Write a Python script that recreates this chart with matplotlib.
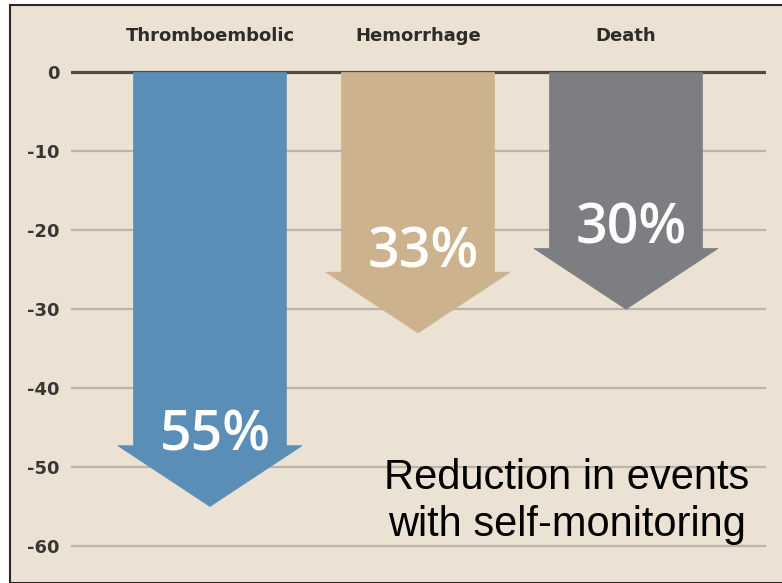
import matplotlib
matplotlib.use("Agg")
import matplotlib.pyplot as plt
from matplotlib.patches import FancyArrow, Rectangle

# ---- data ----
categories = ["Thromboembolic", "Hemorrhage", "Death"]
reductions = [55, 33, 30]          # percent reduction (drawn downward)
pct_labels = ["55%", "33%", "30%"]
arrow_colors = ["#5B8EB6", "#CDB28E", "#7D7E82"]
yticks = [0, -10, -20, -30, -40, -50, -60]
note = "Reduction in events\nwith self-monitoring"

# style: vertical offset of the percent label above the arrow head
label_lift = [1.2, 2.4, 2.4]

W, H = 782, 583
fig = plt.figure(figsize=(W / 100, H / 100), dpi=100, facecolor="white")

# beige panel with dark frame (cut at right/bottom)
fig.patches.append(Rectangle((10 / W, 0), 1.0, 1 - 5 / H, transform=fig.transFigure,
                             facecolor="#EBE2D4", edgecolor="#2A2826", linewidth=1.5,
                             zorder=-5))

ax = fig.add_axes([71 / W, 0.0094, 695 / W, 0.9069])
ax.set_zorder(5)
ax.set_facecolor("none")
ax.set_xlim(-0.668, 2.673)
ax.set_ylim(-64, 3)
for s in ax.spines.values():
    s.set_visible(False)

# grid lines
ax.set_yticks(yticks)
ax.set_yticklabels([str(t) for t in yticks])
for t in yticks:
    if t == 0:
        ax.axhline(t, color="#4F4A45", lw=2.3, zorder=1)
    else:
        ax.axhline(t, color="#BCB4AA", lw=1.6, zorder=1)

ax.tick_params(axis="y", length=0, pad=8, labelsize=13, labelcolor="#3A3733")
for lab in ax.get_yticklabels():
    lab.set_fontfamily(["DejaVu Sans"])
    lab.set_fontweight("bold")

xpos = list(range(len(categories)))
ax.xaxis.tick_top()
ax.set_xticks(xpos)
ax.set_xticklabels(categories)
ax.tick_params(axis="x", length=0, pad=3, labelsize=13, labelcolor="#2E2B28")
for lab in ax.get_xticklabels():
    lab.set_fontfamily(["DejaVu Sans"])
    lab.set_fontweight("bold")

shaft_w = 0.735
head_w = 0.885
head_len = 7.7
for x, v, c, lbl, lift in zip(xpos, reductions, arrow_colors, pct_labels, label_lift):
    arr = FancyArrow(x, 0, 0, -v, width=shaft_w, head_width=head_w,
                     head_length=head_len, length_includes_head=True,
                     facecolor=c, edgecolor=c, linewidth=0.5, zorder=3)
    ax.add_patch(arr)
    ax.text(x + 0.025, -v + head_len + lift, lbl, ha="center", va="center",
            color="white", fontsize=40, fontweight="semibold",
            family=["Open Sans", "DejaVu Sans"], zorder=4)

fig.text(567 / W, 1 - 501.5 / H, note, ha="center", va="center",
         multialignment="center", fontsize=30, linespacing=1.2,
         family=["Liberation Sans", "DejaVu Sans"], color="black", zorder=10)

fig.savefig("out.png", dpi=100, facecolor="white")
